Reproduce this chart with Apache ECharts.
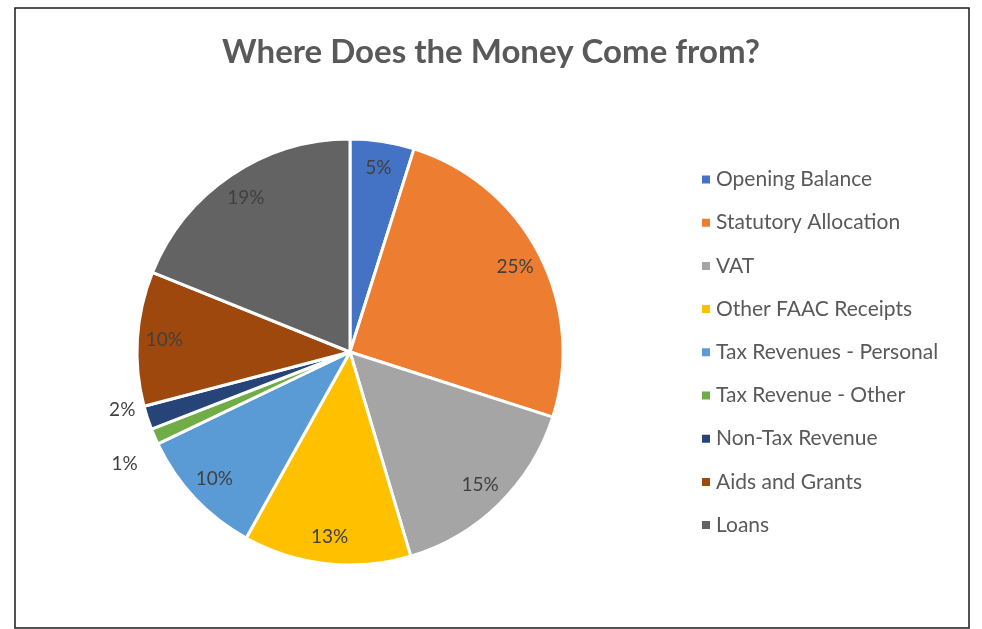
<!DOCTYPE html>
<html>
<head>
<meta charset="utf-8">
<script src="https://cdn.jsdelivr.net/npm/echarts@6/dist/echarts.min.js"></script>
<style>
html,body{margin:0;padding:0;background:#fff;}
#chart{width:982px;height:629px;}
</style>
</head>
<body>
<div id="chart"></div>
<script>
const titleText = 'Where Does the Money Come from?';
const categories = ['Opening Balance','Statutory Allocation','VAT','Other FAAC Receipts','Tax Revenues - Personal','Tax Revenue - Other','Non-Tax Revenue','Aids and Grants','Loans'];
const values = [4.86, 25.08, 15.46, 12.7, 9.8, 1.2, 1.8, 10.2, 18.9];
const colors = ['#4472C4','#ED7D31','#A5A5A5','#FFC000','#5B9BD5','#70AD47','#264478','#9E480E','#636363'];
const outsideLabelNames = ['Tax Revenue - Other','Non-Tax Revenue'];

const chart = echarts.init(document.getElementById('chart'));
const fontFam = 'Lato, "Open Sans", sans-serif';

// label nudges for the two small outside labels (style only)
const labelNudge = {'Tax Revenue - Other':[-8, 24], 'Non-Tax Revenue':[-5, -9]};

const mainData = categories.map((c,i)=>({name:c, value:values[i], itemStyle:{color:colors[i]}}));
const labelData = categories.map((c,i)=>{
  const outside = outsideLabelNames.includes(c);
  return {
    name:c, value:values[i],
    label: outside ? {position:'outside'} : {position:'inside'},
    labelLine: {show:false, length: 4, length2: 0}
  };
});

chart.setOption({
  animation:false,
  color: colors,
  title:{
    text:titleText, left:'center', top:31,
    textStyle:{fontFamily:fontFam, fontWeight:'bold', fontSize:33, color:'#595959'}
  },
  legend:{
    orient:'vertical', left:695, top:164,
    data: categories,
    icon:'rect', itemWidth:10, itemHeight:10, itemGap:22.2,
    textStyle:{fontFamily:fontFam, fontSize:21, color:'#595959', lineHeight:20}
  },
  graphic:[{
    type:'rect', shape:{x:15,y:8,width:954,height:620},
    style:{fill:'none', stroke:'#1a1a1a', lineWidth:1.5}, silent:true
  }],
  series:[
    {
      type:'pie', center:[350,352], radius:[0,213], startAngle:90, clockwise:true,
      data: mainData, label:{show:false}, labelLine:{show:false},
      itemStyle:{borderColor:'#fff', borderWidth:3},
      emphasis:{disabled:true}
    },
    {
      type:'pie', center:[350,352], radius:[153,213], startAngle:90, clockwise:true,
      data: labelData, silent:true, legendHoverLink:false,
      itemStyle:{color:'rgba(0,0,0,0)', borderWidth:0},
      label:{show:true, fontFamily:fontFam, fontSize:19, color:'#404040',
        formatter: p => Math.round(p.percent) + '%'},
      labelLayout: p => {
        const n = labelNudge[categories[p.dataIndex]];
        return n ? {dx:n[0], dy:n[1]} : {};
      },
      emphasis:{disabled:true}
    }
  ]
});
</script>
</body>
</html>
